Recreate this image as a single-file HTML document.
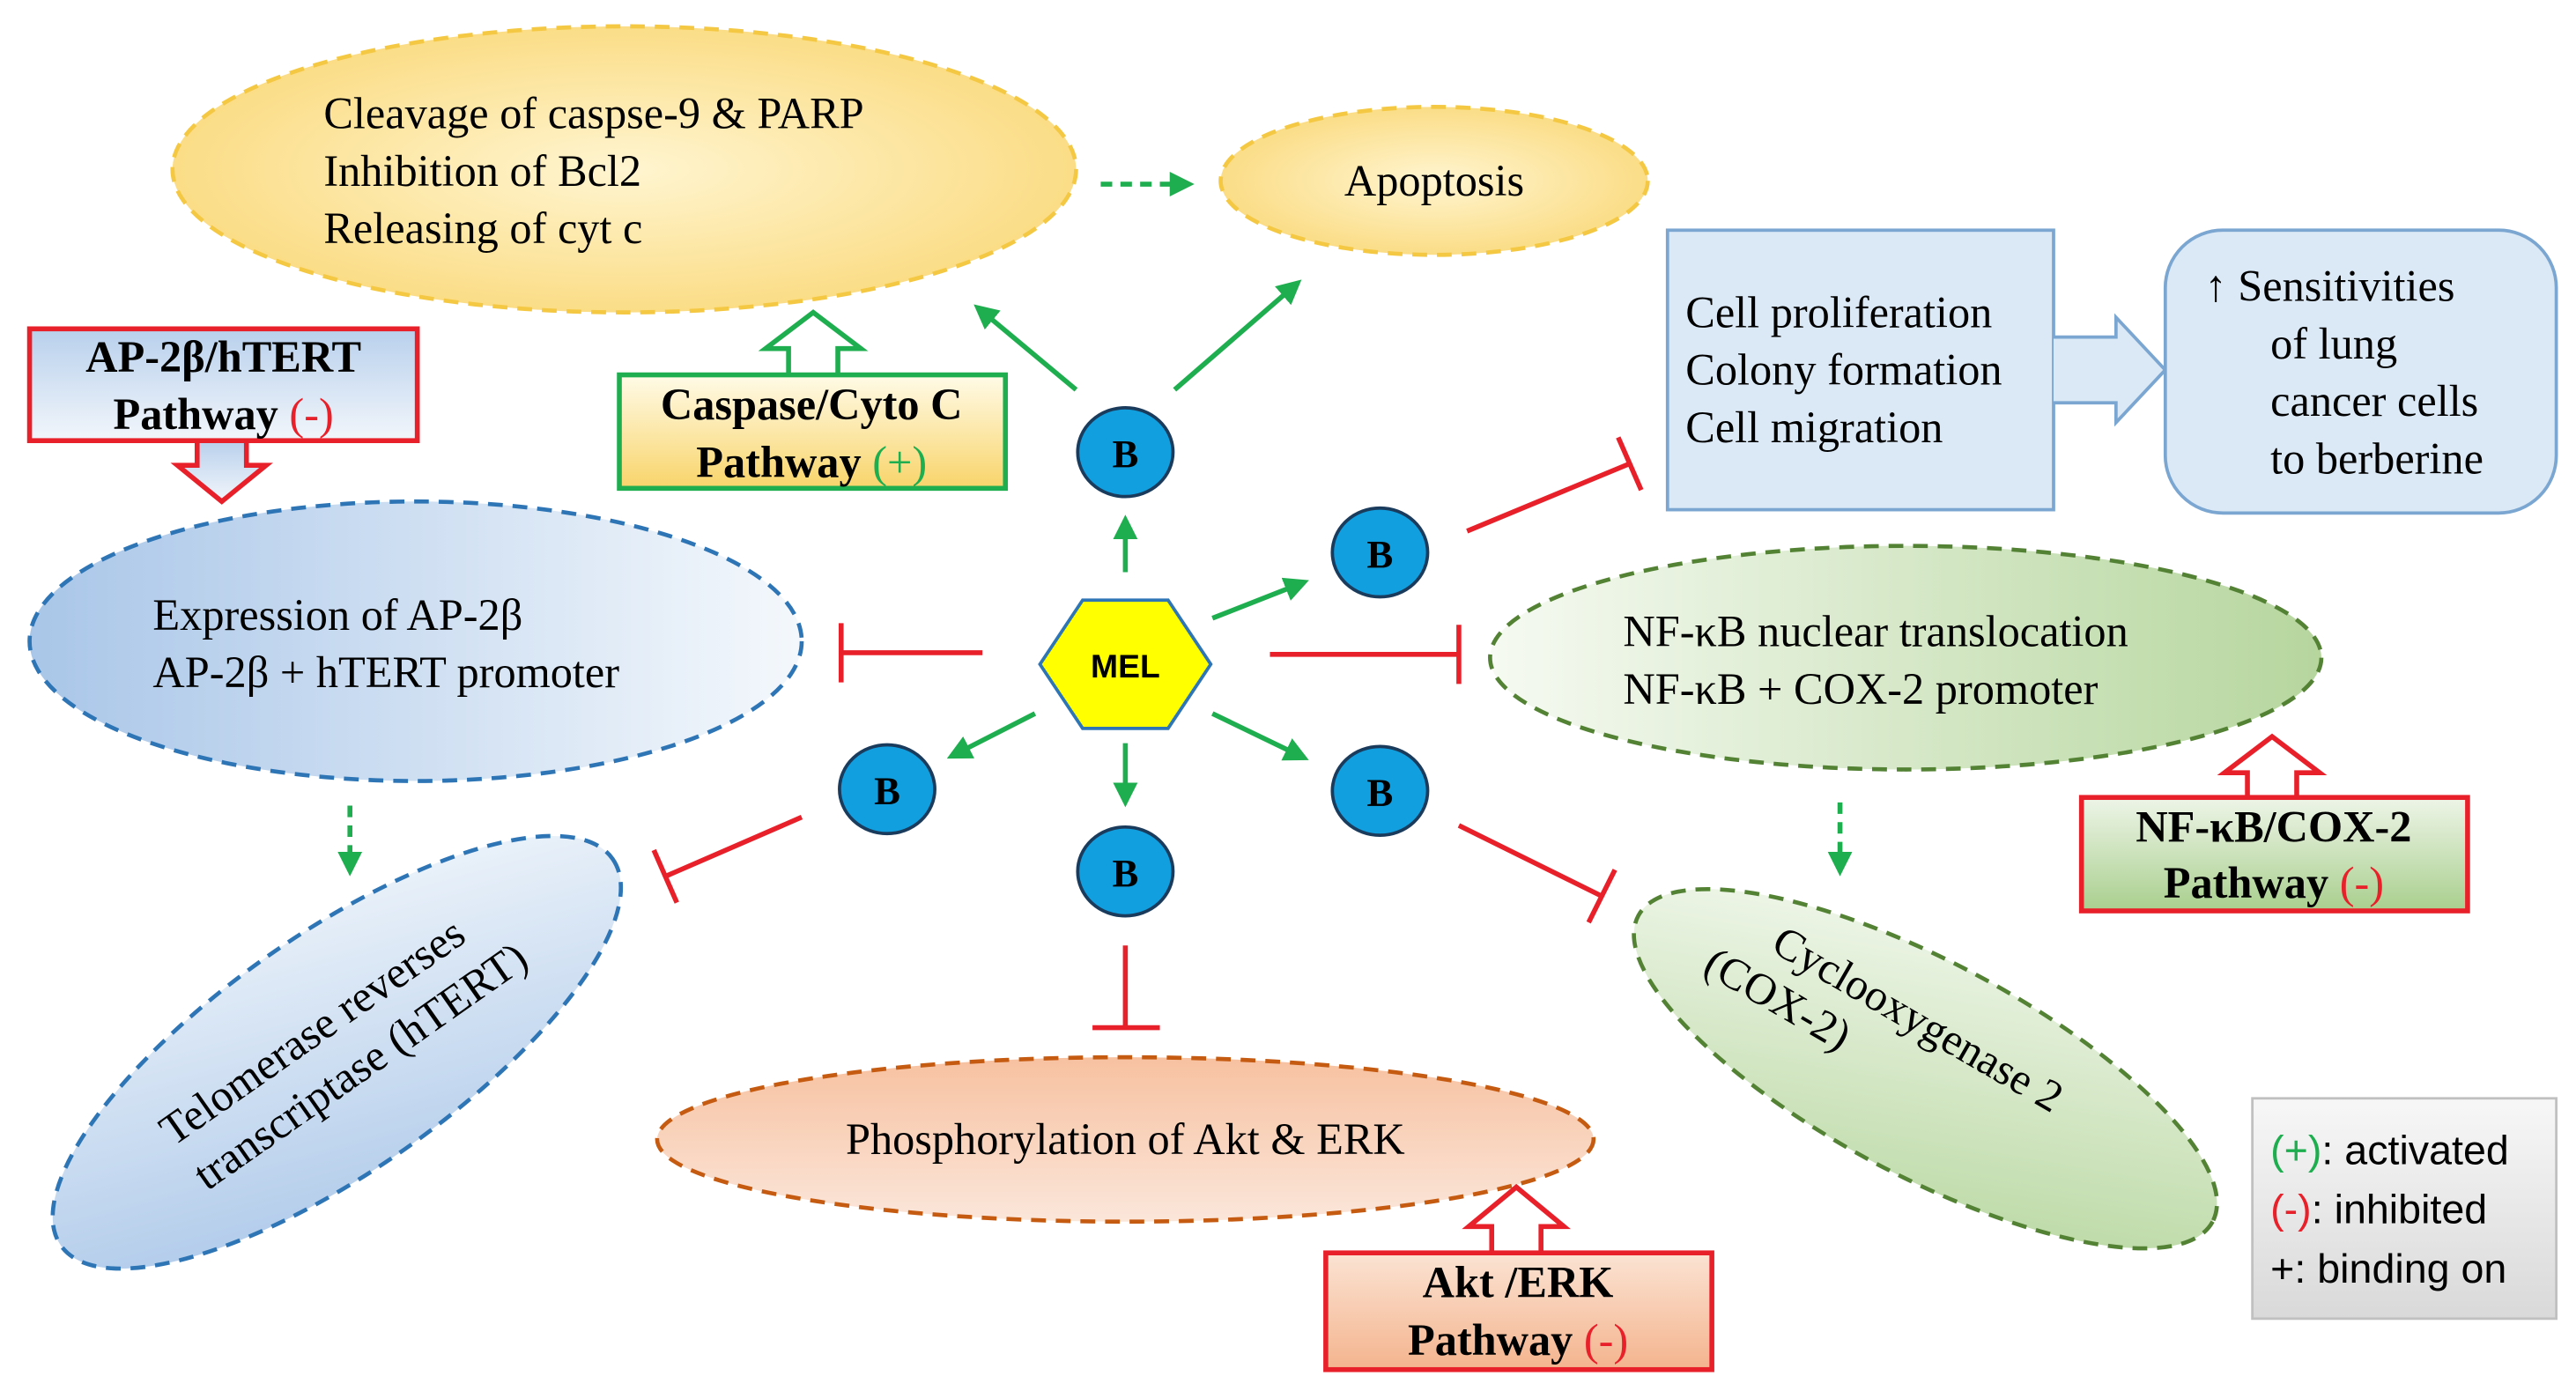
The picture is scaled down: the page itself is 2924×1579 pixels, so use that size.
<!DOCTYPE html>
<html><head><meta charset="utf-8"><style>
html,body{margin:0;padding:0;background:#fff;}
svg{display:block;}
text{font-family:"Liberation Serif",serif;}
text.s{font-family:"Liberation Sans",sans-serif;}
</style></head><body>
<svg width="2924" height="1579" viewBox="0 0 1568 846" preserveAspectRatio="none" xmlns="http://www.w3.org/2000/svg">
<defs>
<radialGradient id="gy" cx="0.5" cy="0.5" r="0.6"><stop offset="0" stop-color="#fff5d0"/><stop offset="1" stop-color="#fad878"/></radialGradient>
<linearGradient id="gb" x1="0" y1="0" x2="1" y2="0"><stop offset="0" stop-color="#a9c6e8"/><stop offset="1" stop-color="#f4f8fc"/></linearGradient>
<linearGradient id="gb2" x1="0" y1="1" x2="1" y2="0"><stop offset="0" stop-color="#a9c6e8"/><stop offset="1" stop-color="#f4f8fc"/></linearGradient>
<linearGradient id="gg" x1="0" y1="0" x2="1" y2="0"><stop offset="0" stop-color="#f6faf2"/><stop offset="1" stop-color="#b6d69e"/></linearGradient>
<linearGradient id="gg2" x1="0" y1="0" x2="1" y2="1"><stop offset="0" stop-color="#f6faf2"/><stop offset="1" stop-color="#b6d69e"/></linearGradient>
<linearGradient id="go" x1="0" y1="0" x2="0" y2="1"><stop offset="0" stop-color="#f7c1a0"/><stop offset="1" stop-color="#fbe6da"/></linearGradient>
<linearGradient id="bxb" x1="0" y1="0" x2="0" y2="1"><stop offset="0" stop-color="#b8d0ec"/><stop offset="1" stop-color="#f2f6fb"/></linearGradient>
<linearGradient id="bxy" x1="0" y1="0" x2="0" y2="1"><stop offset="0" stop-color="#fffbe8"/><stop offset="1" stop-color="#f8d46a"/></linearGradient>
<linearGradient id="bxg" x1="0" y1="0" x2="0" y2="1"><stop offset="0" stop-color="#eef5e8"/><stop offset="1" stop-color="#a9cf8e"/></linearGradient>
<linearGradient id="bxo" x1="0" y1="0" x2="0" y2="1"><stop offset="0" stop-color="#fbe3d3"/><stop offset="1" stop-color="#f4b48e"/></linearGradient>
<linearGradient id="lg" x1="0" y1="0" x2="0" y2="1"><stop offset="0" stop-color="#f7f7f7"/><stop offset="1" stop-color="#d9d9d9"/></linearGradient>
<marker id="ag" viewBox="0 0 10 10" refX="8" refY="5" markerWidth="5" markerHeight="5" orient="auto"><path d="M0,0L10,5L0,10z" fill="#1fae4f"/></marker>
</defs>

<ellipse cx="380" cy="103" rx="275" ry="87" fill="url(#gy)" stroke="#f4c842" stroke-width="2.5" stroke-dasharray="9,6"/>
<ellipse cx="873" cy="110" rx="130" ry="45" fill="url(#gy)" stroke="#f4c842" stroke-width="2.5" stroke-dasharray="9,6"/>
<ellipse cx="253" cy="390" rx="235" ry="85" fill="url(#gb)" stroke="#2e75b6" stroke-width="2.5" stroke-dasharray="9,6"/>
<ellipse cx="205" cy="640" rx="205" ry="72" transform="rotate(-35 205 640)" fill="url(#gb2)" stroke="#2e75b6" stroke-width="2.5" stroke-dasharray="9,6"/>
<ellipse cx="1160" cy="400" rx="253" ry="68" fill="url(#gg)" stroke="#548235" stroke-width="2.5" stroke-dasharray="9,6"/>
<ellipse cx="1172" cy="650" rx="198" ry="65" transform="rotate(28 1172 650)" fill="url(#gg2)" stroke="#548235" stroke-width="2.5" stroke-dasharray="9,6"/>
<ellipse cx="685" cy="693" rx="285" ry="50" fill="url(#go)" stroke="#c55a11" stroke-width="2.5" stroke-dasharray="9,6"/>

<g font-size="27" fill="#000">
<text x="197" y="78">Cleavage of caspse-9 &amp; PARP</text>
<text x="197" y="113">Inhibition of Bcl2</text>
<text x="197" y="148">Releasing of cyt c</text>
<text x="873" y="119" text-anchor="middle">Apoptosis</text>
<text x="93" y="383">Expression of AP-2β</text>
<text x="93" y="418">AP-2β + hTERT promoter</text>
<text x="988" y="393">NF-κB  nuclear translocation</text>
<text x="988" y="428">NF-κB + COX-2 promoter</text>
<text x="685" y="702" text-anchor="middle">Phosphorylation of Akt &amp; ERK</text>
<g transform="rotate(-35 205 640)"><text x="200" y="630" text-anchor="middle">Telomerase reverses</text><text x="212" y="664" text-anchor="middle">transcriptase (hTERT)</text></g>
<g transform="rotate(30 1150 620)"><text x="1165" y="620" text-anchor="middle">Cyclooxygenase 2</text><text x="1085" y="652" text-anchor="middle">(COX-2)</text></g>
</g>

<rect x="1015" y="140" width="235" height="170" fill="#dbe8f5" stroke="#7aa6d1" stroke-width="2"/>
<path d="M1250,205 L1288,205 L1288,193 L1318,225 L1288,257 L1288,245 L1250,245" fill="#dbe8f5" stroke="#7aa6d1" stroke-width="2"/>
<rect x="1318" y="140" width="238" height="172" rx="35" fill="#dbe8f5" stroke="#7aa6d1" stroke-width="2"/>
<g font-size="27">
<text x="1026" y="199">Cell proliferation</text>
<text x="1026" y="234">Colony formation</text>
<text x="1026" y="269">Cell migration</text>
<text x="1342" y="183">↑ Sensitivities</text>
<text x="1382" y="218">of lung</text>
<text x="1382" y="253">cancer cells</text>
<text x="1382" y="288">to berberine</text>
</g>

<path d="M120,268 L120,283 L108,283 L135,305 L162,283 L150,283 L150,268" fill="url(#bxb)" stroke="#e8202a" stroke-width="3"/>
<rect x="18" y="200" width="236" height="68" fill="url(#bxb)" stroke="#e8202a" stroke-width="3"/>
<path d="M480,228 L480,212 L466,212 L495,190 L524,212 L510,212 L510,228" fill="#fff" stroke="#1fae4f" stroke-width="3"/>
<rect x="377" y="228" width="235" height="69" fill="url(#bxy)" stroke="#1fae4f" stroke-width="3"/>
<path d="M1368,485 L1368,470 L1354,470 L1383,448 L1412,470 L1398,470 L1398,485" fill="#fff" stroke="#e8202a" stroke-width="3"/>
<rect x="1267" y="485" width="235" height="69" fill="url(#bxg)" stroke="#e8202a" stroke-width="3"/>
<path d="M908,762 L908,746 L894,746 L923,722 L952,746 L938,746 L938,762" fill="#fff" stroke="#e8202a" stroke-width="3"/>
<rect x="807" y="762" width="235" height="71" fill="url(#bxo)" stroke="#e8202a" stroke-width="3"/>
<g font-size="27" font-weight="bold" text-anchor="middle">
<text x="136" y="226">AP-2β/hTERT</text><text x="136" y="261">Pathway <tspan fill="#e8202a" font-weight="normal">(-)</tspan></text>
<text x="494" y="255">Caspase/Cyto C</text><text x="494" y="290">Pathway <tspan fill="#1fae4f" font-weight="normal">(+)</tspan></text>
<text x="1384" y="512">NF-κB/COX-2</text><text x="1384" y="546">Pathway <tspan fill="#e8202a" font-weight="normal">(-)</tspan></text>
<text x="924" y="789">Akt /ERK</text><text x="924" y="824">Pathway <tspan fill="#e8202a" font-weight="normal">(-)</tspan></text>
</g>

<g stroke="#1fae4f" stroke-width="3" fill="none" marker-end="url(#ag)">
<path d="M685,348 L685,316"/>
<path d="M738,376 L794,354"/>
<path d="M738,434 L794,461"/>
<path d="M685,452 L685,488"/>
<path d="M630,434 L579,460"/>
<path d="M655,237 L595,187"/>
<path d="M715,237 L790,172"/>
</g>
<g stroke="#1fae4f" stroke-width="3" fill="none" stroke-dasharray="7,5" marker-end="url(#ag)">
<path d="M670,112 L724,112"/>
<path d="M1120,488 L1120,530"/>
<path d="M213,490 L213,530"/>
</g>

<g stroke="#e8202a" stroke-width="3" fill="none">
<path d="M598,397 L512,397 M512,379 L512,415"/>
<path d="M773,398 L888,398 M888,380 L888,416"/>
<path d="M893,323 L992,282 M985,266 L999,298"/>
<path d="M488,497 L405,533 M398,517 L412,549"/>
<path d="M888,502 L975,545 M983,529 L967,561"/>
<path d="M685,575 L685,625 M665,625 L706,625"/>
</g>

<polygon points="633,404 659,365 711,365 737,404 711,443 659,443" fill="#ffff00" stroke="#2e75b6" stroke-width="2"/>
<text class="s" x="685" y="412" text-anchor="middle" font-weight="bold" font-size="20">MEL</text>
<g fill="#119fe0" stroke="#1a3b5c" stroke-width="2">
<ellipse cx="685" cy="275" rx="29" ry="27"/>
<ellipse cx="840" cy="336" rx="29" ry="27"/>
<ellipse cx="540" cy="480" rx="29" ry="27"/>
<ellipse cx="685" cy="530" rx="29" ry="27"/>
<ellipse cx="840" cy="481" rx="29" ry="27"/>
</g>
<g font-size="24" font-weight="bold" text-anchor="middle">
<text x="685" y="284">B</text><text x="840" y="345">B</text><text x="540" y="489">B</text><text x="685" y="539">B</text><text x="840" y="490">B</text>
</g>

<rect x="1371" y="668" width="185" height="134" fill="url(#lg)" stroke="#c0c0c0" stroke-width="1.5"/>
<g font-size="25">
<text class="s" x="1382" y="708"><tspan fill="#1fae4f">(+)</tspan>: activated</text>
<text class="s" x="1382" y="744"><tspan fill="#e8202a">(-)</tspan>: inhibited</text>
<text class="s" x="1382" y="780">+: binding on</text>
</g>
</svg>
</body></html>
